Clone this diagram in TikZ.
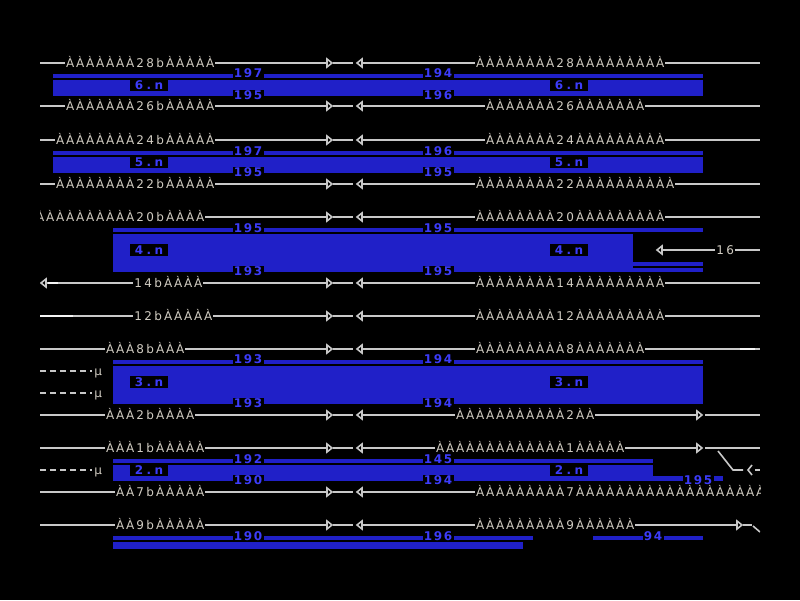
\documentclass[tikz,border=0pt]{standalone}
\usepackage{fontspec}
\setmainfont{DejaVu Sans}
\definecolor{ln}{RGB}{200,200,200}
\definecolor{wln}{RGB}{245,245,245}
\definecolor{tx}{RGB}{210,205,195}
\definecolor{band}{RGB}{32,32,200}
\definecolor{bl}{RGB}{60,60,250}
\makeatletter
\def\mt@end{mt@end@marker}
\def\mt#1{\mt@loop#1\mt@end}
\def\mt@loop#1{\ifx#1\mt@end\else\makebox[10pt]{#1}\expandafter\mt@loop\fi}
\makeatother
\tikzset{
  txt/.style={anchor=base west, inner sep=0pt, text=tx, font=\fontsize{12}{13}\selectfont},
  num/.style={fill=black, text=bl, inner xsep=0.5pt, inner ysep=0.5pt, font=\fontsize{12}{13}\selectfont\bfseries},
  tag/.style={num, minimum width=38pt, minimum height=12pt},
  ln/.style={draw=ln, line width=1.6pt},
  wl/.style={draw=wln, line width=1.6pt},
  dl/.style={draw=ln, line width=1.6pt, dash pattern=on 6pt off 4pt},
  bandfill/.style={fill=band}
}
\newcommand\tipR[2]{\fill[ln] (#1,#2) ++(0,-4) -- ++(5,4) -- ++(-5,4) -- cycle;}
\newcommand\tipL[2]{\fill[ln] (#1,#2) ++(5,-4) -- ++(-5,4) -- ++(5,4) -- cycle;}
\newcommand\midarrows[1]{\tipR{327}{#1}\draw[ln] (333,#1) -- (353,#1);\tipL{357}{#1}}
\begin{document}
\begin{tikzpicture}[x=1pt,y=-1pt]
\fill[black] (0,0) rectangle (800,600);
\useasboundingbox (0,0) rectangle (800,600);
\begin{scope}
\clip (40,0) rectangle (760,600);
% ---------- bands ----------
\fill[bandfill] (53,74) rectangle (703,78);
\fill[bandfill] (53,80) rectangle (703,96);
\fill[bandfill] (53,151) rectangle (703,155);
\fill[bandfill] (53,157) rectangle (703,173);
\fill[bandfill] (113,228) rectangle (703,232);
\fill[bandfill] (113,234) rectangle (633,272);
\fill[bandfill] (633,262) rectangle (703,266);
\fill[bandfill] (633,268) rectangle (703,272);
\fill[bandfill] (113,360) rectangle (703,364);
\fill[bandfill] (113,366) rectangle (703,404);
\fill[bandfill] (113,459) rectangle (653,463);
\fill[bandfill] (113,465) rectangle (653,481);
\fill[bandfill] (653,476) rectangle (723,481);
\fill[bandfill] (113,536) rectangle (533,540);
\fill[bandfill] (113,542) rectangle (523,549);
\fill[bandfill] (593,536) rectangle (703,540);
% ---------- band labels ----------
\node[num] (b6a) at (248,73) {\mt{197}};
\node[num] (b6b) at (248,95) {\mt{195}};
\node[num] (b6c) at (438,73) {\mt{194}};
\node[num] (b6d) at (438,95) {\mt{196}};
\node[tag] (b6l) at (149,85) {\mt{6.n}};
\node[tag] (b6r) at (569,85) {\mt{6.n}};
\node[num] (b5a) at (248,151) {\mt{197}};
\node[num] (b5b) at (248,172) {\mt{195}};
\node[num] (b5c) at (438,151) {\mt{196}};
\node[num] (b5d) at (438,172) {\mt{195}};
\node[tag] (b5l) at (149,162) {\mt{5.n}};
\node[tag] (b5r) at (569,162) {\mt{5.n}};
\node[num] (b4a) at (248,228) {\mt{195}};
\node[num] (b4b) at (248,271) {\mt{193}};
\node[num] (b4c) at (438,228) {\mt{195}};
\node[num] (b4d) at (438,271) {\mt{195}};
\node[tag] (b4l) at (149,250) {\mt{4.n}};
\node[tag] (b4r) at (569,250) {\mt{4.n}};
\node[num] (b3a) at (248,359) {\mt{193}};
\node[num] (b3b) at (248,403) {\mt{193}};
\node[num] (b3c) at (438,359) {\mt{194}};
\node[num] (b3d) at (438,403) {\mt{194}};
\node[tag] (b3l) at (149,382) {\mt{3.n}};
\node[tag] (b3r) at (569,382) {\mt{3.n}};
\node[num] (b2a) at (248,459) {\mt{192}};
\node[num] (b2b) at (248,480) {\mt{190}};
\node[num] (b2c) at (438,459) {\mt{145}};
\node[num] (b2d) at (438,480) {\mt{194}};
\node[tag] (b2l) at (149,470) {\mt{2.n}};
\node[tag] (b2r) at (569,470) {\mt{2.n}};
\node[num] (b2e) at (698,480) {\mt{195}};
\node[num] (b1a) at (248,536) {\mt{190}};
\node[num] (b1c) at (438,536) {\mt{196}};
\node[num] (b1e) at (653,536) {\mt{94}};
% ---------- row 28 ----------
\draw[ln] (40,63) -- (65,63);
\node[txt] (l28) at (65,67.5) {\mt{ÀÀÀÀÀÀÀ28bÀÀÀÀÀ}};
\draw[ln] (215,63) -- (327,63);
\midarrows{63}
\draw[ln] (363,63) -- (475,63);
\node[txt] (r28) at (475,67.5) {\mt{ÀÀÀÀÀÀÀÀ28ÀÀÀÀÀÀÀÀÀ}};
\draw[ln] (665,63) -- (760,63);
% ---------- row 26 ----------
\draw[ln] (40,106) -- (65,106);
\node[txt] (l26) at (65,110.5) {\mt{ÀÀÀÀÀÀÀ26bÀÀÀÀÀ}};
\draw[ln] (215,106) -- (327,106);
\midarrows{106}
\draw[ln] (363,106) -- (485,106);
\node[txt] (r26) at (485,110.5) {\mt{ÀÀÀÀÀÀÀ26ÀÀÀÀÀÀÀ}};
\draw[ln] (645,106) -- (760,106);
% ---------- row 24 ----------
\draw[ln] (40,140) -- (55,140);
\node[txt] (l24) at (55,144.5) {\mt{ÀÀÀÀÀÀÀÀ24bÀÀÀÀÀ}};
\draw[ln] (215,140) -- (327,140);
\midarrows{140}
\draw[ln] (363,140) -- (485,140);
\node[txt] (r24) at (485,144.5) {\mt{ÀÀÀÀÀÀÀ24ÀÀÀÀÀÀÀÀÀ}};
\draw[ln] (665,140) -- (760,140);
% ---------- row 22 ----------
\draw[ln] (40,184) -- (55,184);
\node[txt] (l22) at (55,188.5) {\mt{ÀÀÀÀÀÀÀÀ22bÀÀÀÀÀ}};
\draw[ln] (215,184) -- (327,184);
\midarrows{184}
\draw[ln] (363,184) -- (475,184);
\node[txt] (r22) at (475,188.5) {\mt{ÀÀÀÀÀÀÀÀ22ÀÀÀÀÀÀÀÀÀÀ}};
\draw[ln] (675,184) -- (760,184);
% ---------- row 20 ----------
\node[txt] (l20) at (35,221.5) {\mt{ÀÀÀÀÀÀÀÀÀÀ20bÀÀÀÀ}};
\draw[ln] (205,217) -- (327,217);
\midarrows{217}
\draw[ln] (363,217) -- (475,217);
\node[txt] (r20) at (475,221.5) {\mt{ÀÀÀÀÀÀÀÀ20ÀÀÀÀÀÀÀÀÀ}};
\draw[ln] (665,217) -- (760,217);
% ---------- row 16 ----------
\tipL{657}{250}
\draw[ln] (663,250) -- (715,250);
\node[txt] (r16) at (715,254.5) {\mt{16}};
\draw[ln] (735,250) -- (760,250);
% ---------- row 14 ----------
\tipL{41}{283}
\draw[ln] (47,283) -- (133,283);
\draw[wl] (48,283) -- (58,283);
\node[txt] (l14) at (133,287.5) {\mt{14bÀÀÀÀ}};
\draw[ln] (203,283) -- (327,283);
\midarrows{283}
\draw[ln] (363,283) -- (475,283);
\node[txt] (r14) at (475,287.5) {\mt{ÀÀÀÀÀÀÀÀ14ÀÀÀÀÀÀÀÀÀ}};
\draw[ln] (665,283) -- (760,283);
% ---------- row 12 ----------
\draw[ln] (40,316) -- (133,316);
\draw[wl] (40,316) -- (73,316);
\node[txt] (l12) at (133,320.5) {\mt{12bÀÀÀÀÀ}};
\draw[ln] (213,316) -- (327,316);
\midarrows{316}
\draw[ln] (363,316) -- (475,316);
\node[txt] (r12) at (475,320.5) {\mt{ÀÀÀÀÀÀÀÀ12ÀÀÀÀÀÀÀÀÀ}};
\draw[ln] (665,316) -- (760,316);
% ---------- row 8 ----------
\draw[ln] (40,349) -- (105,349);
\node[txt] (l8) at (105,353.5) {\mt{ÀÀÀ8bÀÀÀ}};
\draw[ln] (185,349) -- (327,349);
\midarrows{349}
\draw[ln] (363,349) -- (475,349);
\node[txt] (r8) at (475,353.5) {\mt{ÀÀÀÀÀÀÀÀÀ8ÀÀÀÀÀÀÀ}};
\draw[ln] (645,349) -- (760,349);
\draw[wl] (740,349) -- (755,349);
% ---------- dashed mu lines ----------
\draw[dl] (40,371) -- (92,371);
\node[txt] (mu1) at (93,375.5) {\mt{µ}};
\draw[dl] (40,393) -- (92,393);
\node[txt] (mu2) at (93,397.5) {\mt{µ}};
% ---------- row 2 ----------
\draw[ln] (40,415) -- (105,415);
\node[txt] (l2) at (105,419.5) {\mt{ÀÀÀ2bÀÀÀÀ}};
\draw[ln] (195,415) -- (327,415);
\midarrows{415}
\draw[ln] (363,415) -- (455,415);
\node[txt] (r2) at (455,419.5) {\mt{ÀÀÀÀÀÀÀÀÀÀÀ2ÀÀ}};
\draw[ln] (595,415) -- (697,415);
\tipR{697}{415}
\draw[ln] (705,415) -- (760,415);
% ---------- row 1 ----------
\draw[ln] (40,448) -- (105,448);
\node[txt] (l1) at (105,452.5) {\mt{ÀÀÀ1bÀÀÀÀÀ}};
\draw[ln] (205,448) -- (327,448);
\midarrows{448}
\draw[ln] (363,448) -- (435,448);
\node[txt] (r1) at (435,452.5) {\mt{ÀÀÀÀÀÀÀÀÀÀÀÀÀ1ÀÀÀÀÀ}};
\draw[ln] (625,448) -- (697,448);
\tipR{697}{448}
\draw[ln] (705,448) -- (760,448);
\draw[ln] (718,451) -- (733,470) -- (743,470);
\draw[ln] (752,465) -- (748,470) -- (752,475);
\draw[ln] (755,470) -- (760,470);
\draw[dl] (40,470) -- (92,470);
\node[txt] (mu3) at (93,474.5) {\mt{µ}};
% ---------- row 7 ----------
\draw[ln] (40,492) -- (115,492);
\node[txt] (l7) at (115,496.5) {\mt{ÀÀ7bÀÀÀÀÀ}};
\draw[ln] (205,492) -- (327,492);
\midarrows{492}
\draw[ln] (363,492) -- (475,492);
\node[txt] (r7) at (475,496.5) {\mt{ÀÀÀÀÀÀÀÀÀ7ÀÀÀÀÀÀÀÀÀÀÀÀÀÀÀÀÀÀÀÀ}};
% ---------- row 9 ----------
\draw[ln] (40,525) -- (115,525);
\node[txt] (l9) at (115,529.5) {\mt{ÀÀ9bÀÀÀÀÀ}};
\draw[ln] (205,525) -- (327,525);
\midarrows{525}
\draw[ln] (363,525) -- (475,525);
\node[txt] (r9) at (475,529.5) {\mt{ÀÀÀÀÀÀÀÀÀ9ÀÀÀÀÀÀ}};
\draw[ln] (635,525) -- (737,525);
\tipR{737}{525}
\draw[ln] (743,525) -- (752,525);
\draw[ln] (753,526) -- (760,532);
\end{scope}
\end{tikzpicture}
\end{document}
